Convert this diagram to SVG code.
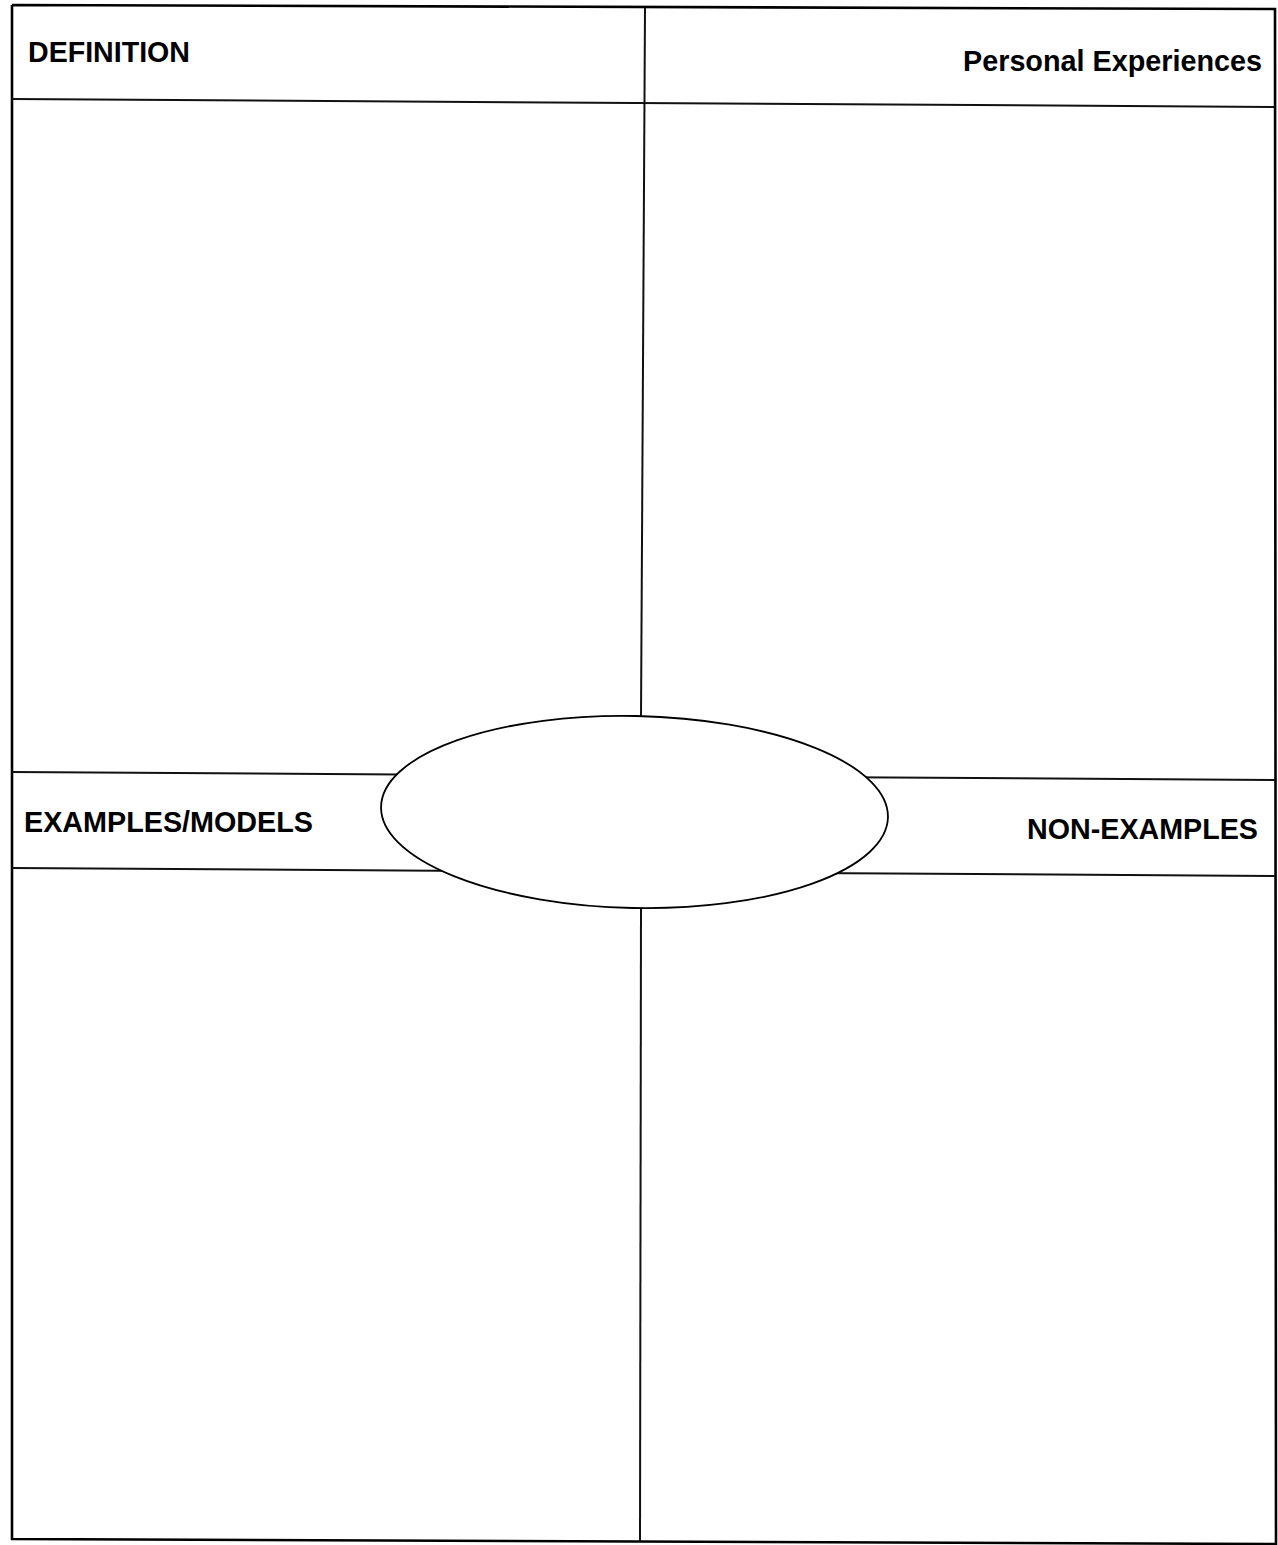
<svg xmlns="http://www.w3.org/2000/svg" width="1278" height="1545" viewBox="0 0 1278 1545">
<style>
.ln{stroke:#000;stroke-width:2.6;fill:none}
.lt{stroke:#111;stroke-width:2;fill:none}
.lbl{font-family:"Liberation Sans",Arial,sans-serif;font-weight:bold;font-size:29px;fill:#000}
</style>
<rect width="1278" height="1545" fill="#fff"/>
<g id="connectors">
<polyline class="ln" points="12,5 1275,9 1276,1544 12,1539 12,5"/>
<line class="lt" x1="12" y1="99" x2="1275" y2="107"/>
<line class="lt" x1="645" y1="8" x2="641" y2="718"/>
<line class="lt" x1="641" y1="908" x2="640" y2="1542"/>
<line class="lt" x1="12" y1="772" x2="1275" y2="780"/>
<line class="lt" x1="12" y1="868" x2="1275" y2="876"/>
</g>
<g id="definition"><text class="lbl" x="28" y="62" textLength="162" lengthAdjust="spacingAndGlyphs">DEFINITION</text></g>
<g id="personal"><text class="lbl" x="1262" y="71" text-anchor="end" textLength="299" lengthAdjust="spacingAndGlyphs">Personal Experiences</text></g>
<g id="examples"><text class="lbl" x="24" y="832" textLength="289" lengthAdjust="spacingAndGlyphs">EXAMPLES/MODELS</text></g>
<g id="nonexamples"><text class="lbl" x="1258" y="839" text-anchor="end" textLength="231" lengthAdjust="spacingAndGlyphs">NON-EXAMPLES</text></g>
<g id="center"><ellipse cx="634.5" cy="812" rx="253.5" ry="96" transform="rotate(1.2 634.5 812)" fill="#fff" stroke="#000" stroke-width="1.8"/></g>
</svg>
